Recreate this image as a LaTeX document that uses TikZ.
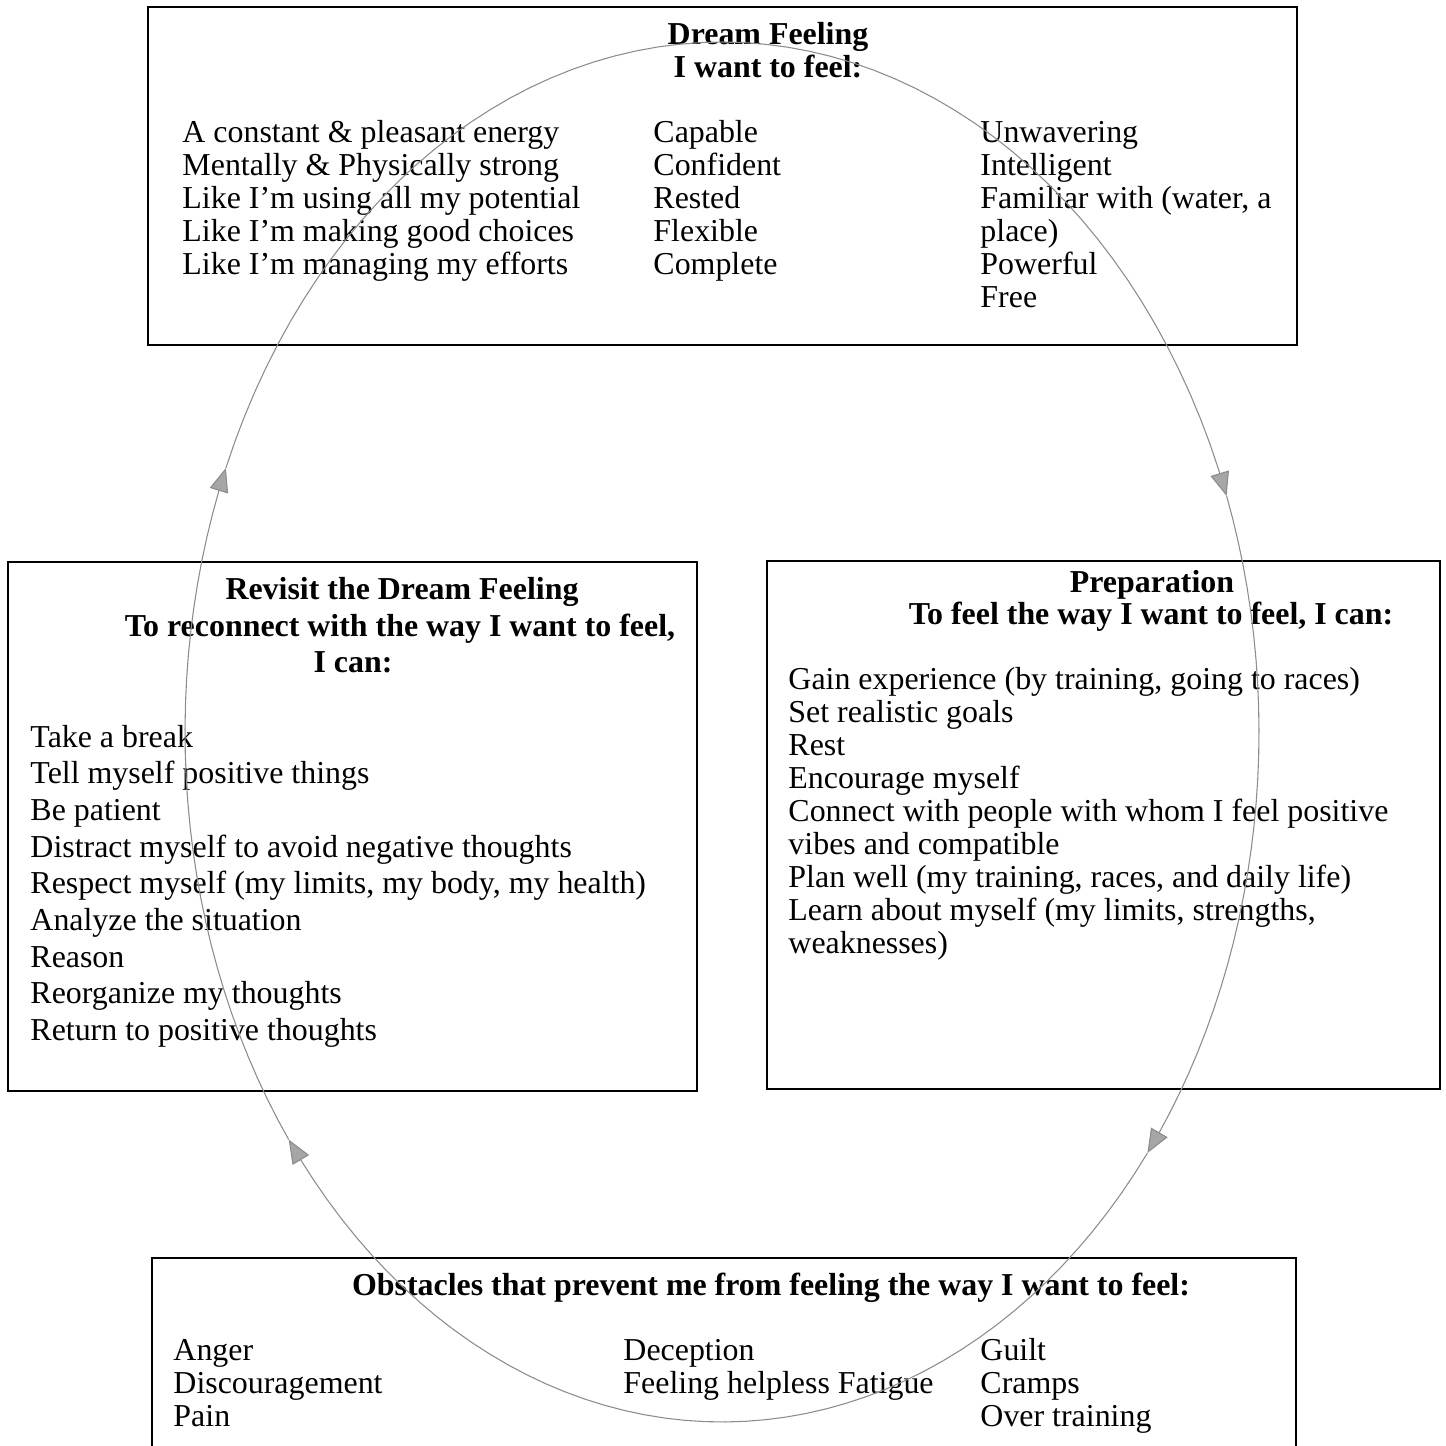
\documentclass[tikz,border=0pt]{standalone}
\usepackage{fontspec}
\setmainfont{Liberation Serif}
\usetikzlibrary{arrows.meta, fit}
\tikzset{
panel/.style={draw, line width=0.8pt, inner sep=0pt},
heading/.style={font=\bfseries\fontsize{13.4}{13.9}\selectfont, inner sep=0pt, anchor=base},
itemlist/.style={font=\fontsize{13.4}{13.9}\selectfont, align=left, inner sep=0pt, anchor=base west},
looseitems/.style={itemlist, font=\fontsize{13.4}{15.4}\selectfont},
loopline/.style={black!45, line width=0.45pt,
  -{Triangle[length=10pt, width=8pt, fill=black!35, color=black!45]}}
}
\begin{document}
\begin{tikzpicture}[x=0.42pt, y=-0.42pt]
  \clip (0,0) rectangle (1446,1446);
  \node[panel, fit={(148,7) (1297,345)}] (dream) {};
  \node[panel, fit={(8,562) (697,1091)}] (revisit) {};
  \node[panel, fit={(767,561) (1440,1089)}] (prep) {};
  \node[panel, fit={(152,1258) (1296,1480)}] (obst) {};

  \node[heading] (dreamtitle) at (768,44) {Dream Feeling};
  \node[heading] (dreamsub) at (768,77) {I want to feel:};
  \node[itemlist] (dreamA) at (182,274.4) {A constant \& pleasant energy\\Mentally \& Physically strong\\Like I'm using all my potential\\Like I'm making good choices\\Like I'm managing my efforts};
  \node[itemlist] (dreamB) at (653,274.4) {Capable\\Confident\\Rested\\Flexible\\Complete};
  \node[itemlist] (dreamC) at (980,307.5) {Unwavering\\Intelligent\\Familiar with (water, a\\place)\\Powerful\\Free};

  \node[heading] (revtitle) at (402,599) {Revisit the Dream Feeling};
  \node[heading] (revsub) at (400,636) {To reconnect with the way I want to feel,};
  \node[heading] (revcan) at (353,672) {I can:};
  \node[looseitems] (revlist) at (30,1040.6) {Take a break\\Tell myself positive things\\Be patient\\Distract myself to avoid negative thoughts\\Respect myself (my limits, my body, my health)\\Analyze the situation\\Reason\\Reorganize my thoughts\\Return to positive thoughts};

  \node[heading] (preptitle) at (1152,592) {Preparation};
  \node[heading] (prepsub) at (1151,624) {To feel the way I want to feel, I can:};
  \node[itemlist] (preplist) at (788,953.8) {Gain experience (by training, going to races)\\Set realistic goals\\Rest\\Encourage myself\\Connect with people with whom I feel positive\\vibes and compatible\\Plan well (my training, races, and daily life)\\Learn about myself (my limits, strengths,\\weaknesses)};

  \node[heading] (obsttitle) at (771,1295) {Obstacles that prevent me from feeling the way I want to feel:};
  \node[itemlist] (obstA) at (173,1426.2) {Anger\\Discouragement\\Pain};
  \node[itemlist] (obstB) at (623,1393.1) {Deception\\Feeling helpless Fatigue};
  \node[itemlist] (obstC) at (980,1426.2) {Guilt\\Cramps\\Over training};

  \draw[loopline] plot[domain=202.5:340, samples=60] ({722+537*cos(\x)}, {732+690*sin(\x)});
  \draw[loopline] plot[domain=340:397.6, samples=30] ({722+537*cos(\x)}, {732+690*sin(\x)});
  \draw[loopline] plot[domain=397.6:503.8, samples=50] ({722+537*cos(\x)}, {732+690*sin(\x)});
  \draw[loopline] plot[domain=503.8:562.5, samples=30] ({722+537*cos(\x)}, {732+690*sin(\x)});
\end{tikzpicture}
\end{document}
